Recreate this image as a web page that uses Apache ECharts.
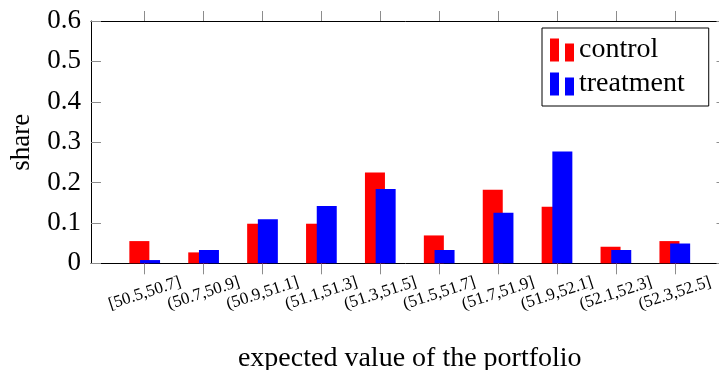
<!DOCTYPE html>
<html><head><meta charset="utf-8">
<script src="https://cdn.jsdelivr.net/npm/echarts@6/dist/echarts.min.js"></script>
<style>html,body{margin:0;padding:0;background:#fff}#c{width:719px;height:370px}</style>
</head><body><div id="c"></div>
<script>
const categories = ['[50.5,50.7]','(50.7,50.9]','(50.9,51.1]','(51.1,51.3]','(51.3,51.5]','(51.5,51.7]','(51.7,51.9]','(51.9,52.1]','(52.1,52.3]','(52.3,52.5]'];
const control   = [0.055,0.027,0.098,0.098,0.225,0.069,0.182,0.140,0.041,0.055];
const treatment = [0.008,0.033,0.109,0.142,0.184,0.033,0.125,0.277,0.033,0.049];
const yTickLabels = ['0','0.1','0.2','0.3','0.4','0.5','0.6'];

const FONT = '"Liberation Serif", "DejaVu Serif", serif';
const TICK = '#8c8c8c';
const chart = echarts.init(document.getElementById('c'), null, {renderer:'canvas'});
chart.setOption({
  animation:false,
  backgroundColor:'#fff',
  grid:[
    {left:115.25, top:21, width:589, height:242.3, containLabel:false, outerBoundsMode:'none'},
    {left:91, top:21, width:637.5, height:242.3, containLabel:false, outerBoundsMode:'none'}
  ],
  xAxis:[
    {type:'category', gridIndex:0, position:'bottom', data:categories, boundaryGap:true,
     axisLine:{show:false},
     axisTick:{show:true, alignWithLabel:true, interval:0, length:11, lineStyle:{color:TICK,width:1}},
     axisLabel:{show:true, rotate:18, align:'center', verticalAlign:'middle', margin:30,
       fontFamily:FONT, fontSize:17, color:'#000', interval:0, hideOverlap:false},
     splitLine:{show:false}},
    {type:'category', gridIndex:0, position:'top', data:categories, boundaryGap:true,
     axisLine:{show:false},
     axisTick:{show:true, alignWithLabel:true, interval:0, length:10, lineStyle:{color:TICK,width:1}},
     axisLabel:{show:false, interval:0}, splitLine:{show:false}},
    {type:'value', gridIndex:1, position:'bottom', min:0, max:1,
     axisLine:{show:true, onZero:false, lineStyle:{color:'#000',width:1}},
     axisTick:{show:false}, axisLabel:{show:false}, splitLine:{show:false},
     name:'expected value of the portfolio', nameLocation:'middle', nameGap:81,
     nameTextStyle:{fontFamily:FONT, fontSize:28, color:'#000'}},
    {type:'value', gridIndex:1, position:'top', min:0, max:1,
     axisLine:{show:true, onZero:false, lineStyle:{color:'#000',width:1}},
     axisTick:{show:false}, axisLabel:{show:false}, splitLine:{show:false}}
  ],
  yAxis:[
    {type:'value', gridIndex:0, min:0, max:0.6, show:false},
    {type:'value', gridIndex:1, position:'left', min:0, max:0.6, interval:0.1,
     axisLine:{show:true, onZero:false, lineStyle:{color:'#000',width:1}},
     axisTick:{show:true, inside:true, length:10, lineStyle:{color:TICK,width:1}},
     axisLabel:{show:true, margin:10, fontFamily:FONT, fontSize:27, color:'#000',
       formatter:(v,i)=>yTickLabels[i]},
     splitLine:{show:false},
     name:'share', nameLocation:'middle', nameGap:56, nameRotate:90,
     nameTextStyle:{fontFamily:FONT, fontSize:27, color:'#000'}},
    {type:'value', gridIndex:1, position:'right', min:0, max:0.6, interval:0.1,
     axisLine:{show:true, onZero:false, lineStyle:{color:'#000',width:1}},
     axisTick:{show:true, inside:true, length:12, lineStyle:{color:TICK,width:1}},
     axisLabel:{show:false}, splitLine:{show:false}}
  ],
  legend:{
    left:542, top:28, orient:'vertical',
    borderColor:'#000', borderWidth:1, backgroundColor:'#fff', borderRadius:0,
    padding:[8,24,8,8], itemWidth:24, itemHeight:23, itemGap:6,
    icon:'path://M0,0H9V23H0Z M15,5H24V23H15Z',
    textStyle:{fontFamily:FONT, fontSize:28, color:'#000'},
    data:['control','treatment']
  },
  series:[
    {name:'control', type:'bar', xAxisIndex:0, yAxisIndex:0, data:control,
     barWidth:20, barGap:'-46.5%', itemStyle:{color:'#ff0000'}},
    {name:'treatment', type:'bar', xAxisIndex:0, yAxisIndex:0, data:treatment,
     barWidth:20, barGap:'-46.5%', itemStyle:{color:'#0000ff'}}
  ]
});
</script></body></html>
